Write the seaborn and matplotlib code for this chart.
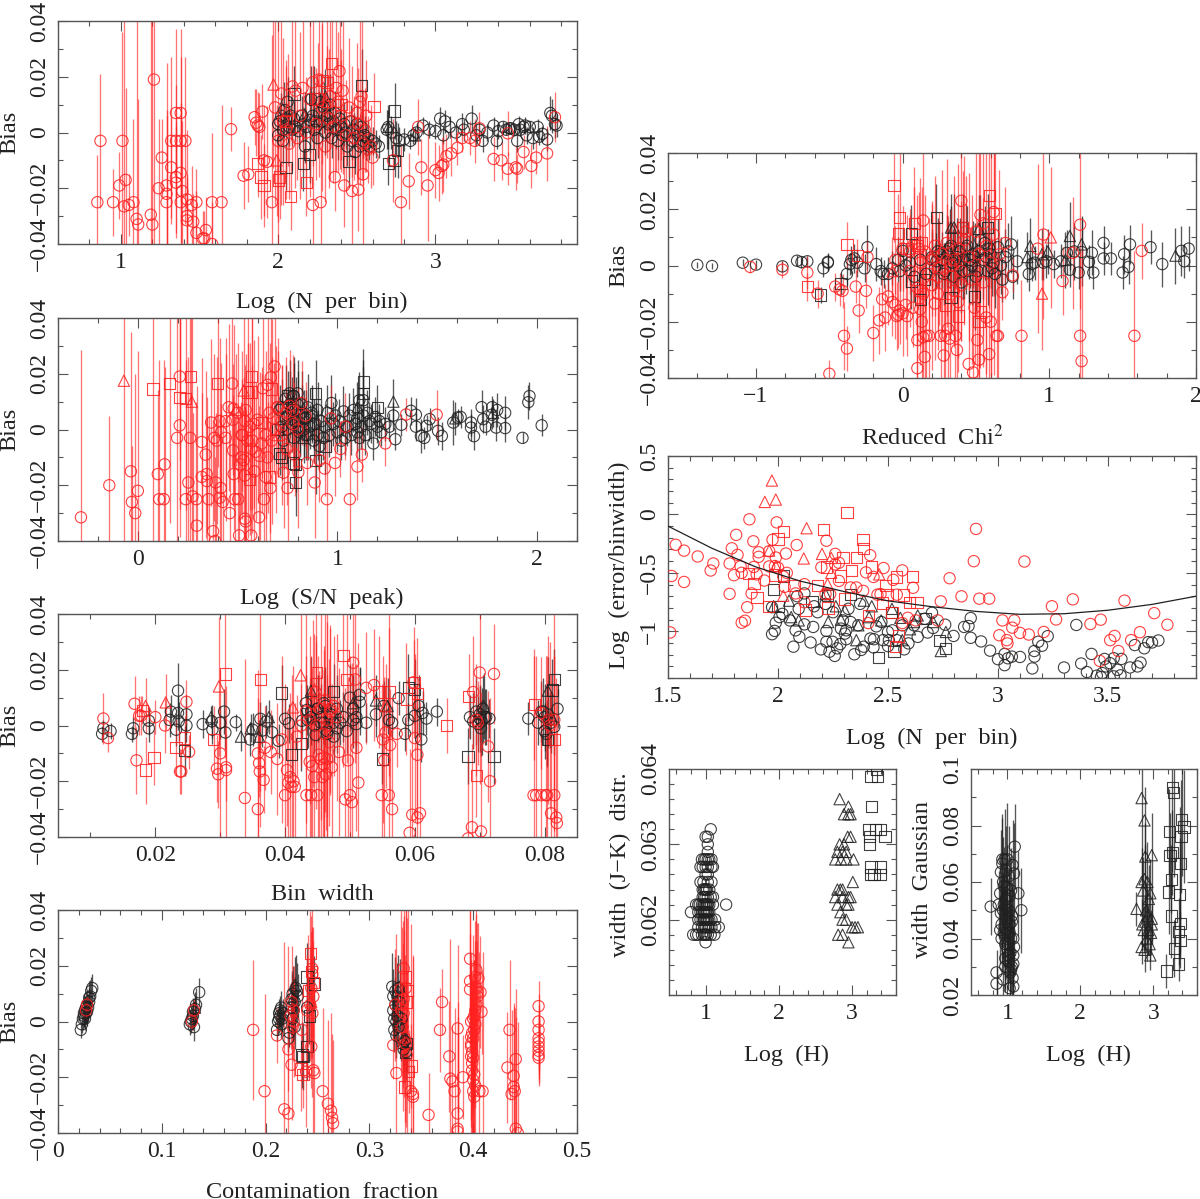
import seaborn as sns
import matplotlib.pyplot as plt
from matplotlib.ticker import MultipleLocator

RED = "#ff2020"
BLACK = "#202020"

# ---- panel 1: Log (N per bin)
p1_bc_x = [2.00,2.00,2.01,2.02,2.03,2.03,2.04,2.05,2.06,2.07,
           2.08,2.09,2.10,2.11,2.13,2.15,2.16,2.17,2.18,2.20,
           2.21,2.22,2.23,2.24,2.25,2.26,2.27,2.28,2.29,2.30,
           2.31,2.32,2.33,2.34,2.35,2.36,2.37,2.38,2.39,2.40,
           2.41,2.42,2.43,2.44,2.46,2.47,2.48,2.49,2.50,2.51,
           2.52,2.53,2.54,2.55,2.56,2.57,2.58,2.60,2.62,2.64,
           2.69,2.70,2.72,2.75,2.77,2.80,2.84,2.86,2.88,2.92,
           2.96,3.00,3.03,3.05,3.06,3.09,3.13,3.17,3.18,3.23,
           3.26,3.28,3.30,3.33,3.37,3.39,3.40,3.43,3.45,3.47,
           3.48,3.50,3.52,3.53,3.54,3.56,3.57,3.58,3.60,3.62,
           3.65,3.66,3.68,3.71,3.73,3.74,3.76,3.77]
p1_bc_y = [.003,-.001,.004,.006,.001,-.003,.008,.005,.011,.002,
           .006,.001,.005,.002,.0005,.006,.003,-.005,.002,.0045,
           .012,.006,.001,.004,-.002,.007,.011,.004,.009,0,
           .006,.003,.010,-.002,.004,.007,.001,-.003,.005,.002,
           -.001,.003,0,-.005,.004,-.003,.001,-.007,.003,-.001,
           -.005,.002,-.003,-.001,-.004,-.002,-.005,-.003,-.004,-.005,
           .001,.002,0,-.002,-.003,-.0025,-.003,-.001,0,.0025,
           .001,.0005,.005,-.001,.004,.002,0,.003,.001,.005,
           -.001,.001,-.003,0,.0025,-.003,.0005,.002,.001,.0015,
           .0015,.001,-.003,.003,.001,.002,.0025,-.001,.002,-.002,
           .002,-.0015,-.0005,-.0025,.007,.006,.003,.0025]
p1_bc_e = [.006,.005,.007,.008,.006,.008,.010,.006,.009,.007,
           .007,.006,.006,.005,.005,.007,.006,.006,.005,.012,
           .012,.009,.007,.008,.007,.008,.010,.009,.009,.008,
           .008,.006,.011,.007,.007,.008,.007,.007,.007,.008,
           .007,.008,.006,.007,.006,.007,.006,.008,.007,.006,
           .008,.006,.006,.007,.006,.006,.005,.005,.005,.004,
           .007,.008,.006,.006,.005,.004,.003,.003,.003,.003,
           .003,.003,.004,.003,.004,.004,.003,.004,.004,.005,
           .004,.003,.004,.003,.003,.003,.003,.002,.002,.002,
           .002,.002,.004,.003,.002,.002,.003,.003,.002,.004,
           .003,.003,.003,.004,.006,.006,.005,.004]
p1_bs_x = [2.05,2.16,2.20,2.10,2.23,2.53,2.45,2.70,2.74,2.76,2.74]
p1_bs_y = [-.0125,-.011,-.008,.0138,.012,.0168,-.0105,-.011,.0077,-.0065,-.010]
p1_bs_e = [.008,.010,.010,.010,.012,.013,.009,.008,.010,.010,.006]
p1_bt_x = [2.17,2.70,2.87,2.30]
p1_bt_y = [.0065,.002,-.001,.0127]
p1_bt_e = [.008,.006,.003,.010]
p1_rc_x = [.85,.87,.95,.99,1.01,1.02,1.03,1.05,1.08,1.10,
           1.11,1.19,1.20,1.21,1.24,1.26,1.29,1.29,1.29,1.32,
           1.32,1.35,1.35,1.35,1.35,1.38,1.38,1.38,1.39,1.38,
           1.41,1.42,1.42,1.42,1.45,1.46,1.48,1.48,1.52,1.53,
           1.54,1.58,1.58,1.64,1.70,1.78,1.81,1.85,1.86,1.87,
           1.88,1.90,1.91,1.93,1.96,2.09,2.155,1.98,2.00,2.02,
           2.03,2.05,2.07,2.11,2.12,2.14,2.18,2.20,2.22,2.24,
           2.26,2.28,2.30,2.32,2.33,2.35,2.37,2.38,2.39,2.40,
           2.41,2.43,2.45,2.47,2.48,2.50,2.51,2.52,2.53,2.54,
           2.55,2.56,2.57,2.59,2.60,2.22,2.27,2.36,2.42,2.47,
           2.51,2.54,2.78,2.73,2.83,2.89,2.91,2.95,3.00,3.02,
           3.04,3.05,3.07,3.10,3.14,3.17,3.22,3.25,3.28,3.37,
           3.42,3.46,3.51,3.52,3.56,3.61,3.64,3.71,3.76,3.46]
p1_rc_y = [-.025,-.003,-.025,-.019,-.003,-.0265,-.017,-.026,-.025,-.031,
           -.033,-.0295,-.033,.019,-.020,-.009,-.022,-.019,-.025,-.003,
           -.0125,.007,-.003,-.016,-.018,.007,-.003,-.0145,-.021,-.025,
           -.003,-.024,-.030,-.0315,-.026,-.032,-.025,-.036,-.038,-.038,
           -.035,-.025,-.040,-.025,.0012,-.0155,-.015,.0055,.0035,.0025,
           .002,.0075,-.010,-.0105,-.025,.0165,.016,.009,-.003,.014,
           .004,.001,-.004,.015,-.002,.006,.0,.012,.018,.003,
           .019,.009,-.005,.005,.013,.002,.016,.011,.022,.006,
           .015,-.001,.009,.004,-.002,.007,.003,.011,.013,-.004,
           .001,.006,-.006,-.005,-.009,-.026,-.025,-.016,-.019,-.021,
           -.0205,-.015,-.025,-.010,-.0175,.002,-.0125,-.019,-.0135,-.0145,
           -.012,-.0115,-.0085,-.0075,-.0055,-.002,-.002,-.003,.0015,-.0095,
           -.010,-.013,-.0125,-.013,-.007,-.012,-.009,-.0075,.0055,-.0003]
p1_rc_e = [.017,.024,.012,.012,.039,.070,.033,.011,.030,.085,
           .045,.080,.080,.060,.025,.014,.030,.025,.050,.030,
           .018,.030,.020,.020,.020,.030,.030,.025,.025,.030,
           .030,.025,.015,.015,.014,.010,.012,.015,.010,.010,
           .012,.025,.015,.035,.008,.012,.010,.010,.012,.012,
           .012,.010,.020,.020,.060,.030,.030,.035,.050,.040,
           .030,.025,.020,.035,.015,.030,.020,.035,.030,.020,
           .035,.030,.020,.025,.030,.020,.030,.025,.035,.020,
           .030,.020,.025,.020,.015,.025,.020,.030,.030,.015,
           .015,.020,.012,.015,.010,.050,.020,.012,.015,.020,
           .015,.030,.020,.015,.010,.010,.010,.020,.010,.010,
           .010,.010,.008,.008,.006,.005,.006,.008,.006,.008,
           .007,.006,.008,.005,.006,.008,.006,.010,.009,.008]
p1_rs_x = [2.34,2.28,2.31,1.87,1.89,1.91,2.00,2.01,2.08,2.18,2.61,2.40,2.25,2.05]
p1_rs_y = [.0247,.0187,.018,-.011,-.016,-.019,-.017,-.016,-.023,-.018,.0093,.010,.012,.004]
p1_rs_e = [.030,.030,.025,.012,.015,.015,.015,.015,.012,.012,.012,.020,.020,.020]
p1_rt_x = [1.97,1.99,2.06,2.31]
p1_rt_y = [.0172,-.010,.008,.011]
p1_rt_e = [.030,.020,.020,.020]

# ---- panel 2: Log (S/N peak)
p2_bc_x = [1.962,1.956,2.023,1.927,1.84,1.84,1.795,1.80,1.773,1.775,
           1.742,1.73,1.722,1.684,1.669,1.669,1.617,1.602,1.58,1.523,
           1.504,1.462,1.447,1.435,1.418,1.393,1.393,1.368,1.32,1.29,
           1.28,1.26,1.24,1.22,1.21,1.20,1.19,1.18,1.17,1.16,
           1.15,1.14,1.13,1.13,1.12,1.11,1.11,1.10,1.10,1.09,
           1.08,1.07,1.06,1.05,1.04,1.03,1.02,1.01,1.00,.99,
           .98,.97,.96,.95,.94,.93,.92,.91,.90,.89,
           .88,.87,.86,.85,.84,.83,.82,.81,.80,.80,
           .79,.78,.78,.77,.76,.75,.74,.73,.72,.71,
           .72,.74,.75,.76,.77,.78,.79,.80,.81,.82,
           .83,.84,.85,.87,.88,.90]
p2_bc_y = [.012,.0098,.0015,-.003,.006,.0005,.0007,.007,.0053,.008,
           .001,.0037,.008,-.0024,.0025,.0007,.0045,.0043,.0025,-.0023,
           -.0005,.0037,.0013,-.003,-.0023,.001,.0053,.0067,.0017,-.0035,
           .005,.001,.002,-.001,.003,.001,.0045,-.005,.002,.003,
           .006,-.002,.0105,.005,.001,.0105,-.003,.004,-.001,.002,
           .007,-.002,.005,.001,-.003,.0065,-.004,.003,-.001,.005,
           .002,.0095,-.002,.006,.001,-.003,.003,-.006,.007,.002,
           -.004,.005,.001,.008,-.002,.004,.009,-.001,.013,.003,
           .007,-.003,.012,.002,.009,.005,.011,-.004,.001,.007,
           .008,.004,.0,.013,.007,.012,.003,.009,.001,.006,
           .0,.004,-.002,.006,.002,-.002]
p2_bc_e = [.005,.006,.004,.002,.006,.005,.005,.006,.005,.004,
           .003,.005,.006,.005,.005,.005,.004,.003,.008,.005,
           .005,.004,.004,.004,.006,.005,.006,.005,.004,.004,
           .005,.005,.006,.005,.006,.006,.007,.006,.007,.007,
           .008,.007,.012,.010,.008,.010,.008,.008,.007,.007,
           .008,.007,.008,.007,.006,.009,.007,.008,.007,.008,
           .008,.010,.008,.010,.008,.008,.008,.008,.010,.008,
           .008,.010,.008,.012,.009,.010,.012,.009,.012,.010,
           .012,.010,.012,.010,.012,.010,.012,.010,.010,.009,
           .010,.010,.010,.012,.012,.014,.010,.012,.010,.010,
           .010,.010,.009,.010,.009,.009]
p2_bs_x = [.75,.71,.72,.78,.79,.89,.89,.94,1.13,1.13,1.20,.70,.79]
p2_bs_y = [.012,-.0085,-.010,-.012,-.019,.013,-.011,-.006,.017,.013,.008,.0,-.0125]
p2_bs_e = [.009,.008,.008,.009,.012,.012,.012,.010,.012,.012,.008,.010,.010]
p2_bt_x = [1.28,1.59,1.78,.83,1.10]
p2_bt_y = [.010,.004,.006,-.003,.008]
p2_bt_e = [.008,.006,.005,.009,.009]
p2_rc_x = [-.285,-.143,-.035,-.03,-.013,0,.10,.107,.13,.134,
           .21,.21,.197,.24,.253,.262,.274,.293,.295,.32,
           .32,.34,.345,.354,.346,.367,.383,.377,.39,.387,
           .396,.41,.417,.415,.41,.425,.44,.455,.473,.475,
           .477,.48,.46,.485,.503,.507,.513,.517,.523,.536,
           .54,.536,.536,.54,.568,.574,.584,.59,.607,.626,
           .632,.64,.65,.666,.664,.685,.65,.68,.70,.73,
           .75,.746,.775,.804,.785,.848,.886,.91,.936,.947,
           .988,.967,1.062,1.10,1.122,1.04,1.015,1.24,1.344,1.497,
           .44,.48,.50,.52,.55,.56,.58,.60,.62,.64,
           .66,.67,.69,.70,.72,.72,.74,.76,.78,.80,
           .82,.84,.57,.61,.53]
p2_rc_y = [-.0315,-.020,-.015,-.026,-.030,-.022,-.016,-.025,-.025,-.0125,
           .019,.0015,-.003,-.025,-.019,-.003,-.024,-.025,-.0345,-.0045,
           -.017,-.009,-.016,-.025,-.0185,.0025,-.003,-.0365,-.019,-.040,
           -.004,.003,-.001,-.021,-.0245,-.026,-.003,.008,.0165,.0035,
           -.0075,-.016,-.030,-.025,-.025,-.038,-.0125,-.010,-.002,.003,
           .007,-.0165,-.032,-.033,-.038,-.004,-.015,-.008,-.0315,.0148,
           -.025,-.017,.016,.0187,-.021,.0226,-.010,.004,.008,-.0155,
           -.021,-.007,.0067,-.0153,-.009,-.012,-.019,-.011,-.014,-.025,
           -.012,.004,-.025,-.0133,-.009,.001,-.007,-.005,.0054,.0053,
           .003,.0075,.006,-.002,-.004,.001,.002,.0035,-.005,-.002,
           .006,-.004,.0,.008,.003,-.002,.006,.0085,.002,.0,
           .0095,.005,-.007,-.0095,-.011]
p2_rc_e = [.060,.025,.050,.020,.050,.050,.030,.050,.050,.035,
           .030,.040,.050,.050,.045,.060,.030,.035,.050,.030,
           .030,.030,.020,.030,.030,.030,.030,.040,.025,.030,
           .030,.030,.025,.030,.030,.030,.030,.030,.030,.020,
           .020,.020,.030,.030,.030,.040,.020,.020,.020,.020,
           .020,.025,.040,.040,.040,.025,.030,.025,.040,.030,
           .030,.030,.030,.030,.020,.025,.020,.020,.020,.020,
           .020,.020,.020,.020,.015,.015,.020,.015,.010,.025,
           .012,.012,.025,.012,.010,.012,.010,.008,.006,.009,
           .030,.030,.025,.030,.035,.030,.030,.030,.025,.030,
           .025,.030,.030,.025,.020,.025,.020,.020,.015,.015,
           .015,.012,.030,.030,.030]
p2_rs_x = [.076,.16,.21,.24,.265,.40,.55,.57,.57,.62,.67,.56,.66]
p2_rs_y = [.0145,.0165,.0115,.011,.019,.0165,.0135,.019,.0135,.0025,.0145,-.018,-.017]
p2_rs_e = [.060,.050,.040,.040,.040,.030,.030,.030,.030,.020,.025,.020,.020]
p2_rt_x = [-.07,.27,.53,.49,.70]
p2_rt_y = [.0175,.010,.014,.007,-.002]
p2_rt_e = [.060,.050,.030,.020,.015]

# ---- panel 3: Bin width
p3_bc_x = [.0118,.012,.0131,.0164,.0166,.019,.019,.0224,.0222,.0232,
           .0235,.0235,.0236,.0248,.0248,.0273,.0287,.0288,.030,.0306,
           .0308,.0324,.0346,.035,.0362,.0365,.0371,.038,.039,.040,
           .0406,.0426,.0432,.0434,.044,.0447,.045,.0455,.046,.0465,
           .047,.0475,.048,.0485,.049,.0495,.050,.0505,.051,.0515,
           .0525,.054,.0552,.056,.0565,.0575,.0585,.059,.060,.0606,
           .061,.0612,.0618,.0634,.0685,.069,.0695,.070,.0702,.0705,
           .071,.0715,.0775,.079,.0795,.080,.0805,.081,.0815,.082,
           .0435,.044,.0445,.045,.0455,.046,.0462,.0465,.047,.0475,
           .048,.0505,.051,.0515,.070,.0703,.0698,.0708,.080,.0803,
           .0798,.0808]
p3_bc_y = [-.003,-.001,-.002,-.003,-.001,.0017,-.001,.005,.002,-.0015,
           .0125,.0045,.0015,.004,0,.0005,.0015,-.0015,.001,.005,
           -.0025,.0012,-.005,-.0015,.0024,-.0018,.0014,-.0024,-.0055,.0024,
           .0008,.0017,.008,.0056,.003,-.0034,.006,.001,.008,-.002,
           .004,-.004,.006,.001,.003,-.002,.010,.006,.003,.011,
           .001,.004,.007,.002,.001,.0098,-.003,.002,.0035,.007,
           -.005,.0045,.0025,.005,.003,.0015,.005,.0025,-.001,.006,
           .003,.0025,.0025,.001,.005,-.002,.004,.001,-.0005,.006,
           .002,.005,.0,.006,.003,.001,.007,-.003,.003,.001,
           -.001,.002,.0005,.0085,.004,.0015,.0005,.003,.003,-.003,
           .005,.002]
p3_bc_e = [.003,.003,.003,.003,.004,.005,.005,.006,.006,.006,
           .010,.006,.007,.007,.006,.005,.006,.005,.006,.008,
           .006,.003,.006,.006,.006,.006,.006,.006,.006,.007,
           .007,.006,.010,.009,.010,.008,.012,.009,.012,.010,
           .010,.009,.012,.008,.009,.008,.012,.012,.010,.010,
           .007,.008,.009,.006,.006,.006,.006,.006,.008,.011,
           .008,.008,.006,.005,.008,.010,.012,.012,.010,.012,
           .010,.007,.006,.008,.011,.010,.012,.011,.010,.007,
           .010,.012,.010,.012,.012,.010,.014,.010,.012,.010,
           .009,.010,.010,.012,.010,.012,.010,.010,.012,.012,
           .012,.010]
p3_bs_x = [.0395,.041,.055,.059,.060,.0682,.0722,.0804,.0815,.0812,.0425,.0475,.0245]
p3_bs_y = [.0117,-.0105,-.012,.0137,.013,-.011,-.011,-.005,.0165,.0127,-.0065,.0122,-.009]
p3_bs_e = [.010,.008,.009,.012,.011,.010,.010,.009,.011,.011,.010,.010,.009]
p3_bt_x = [.0286,.0332,.036,.0375,.044,.0505,.054,.0558,.0706,.0805,.0347]
p3_bt_y = [.003,-.004,-.004,.003,.0125,.008,.009,.007,.007,.0125,-.001]
p3_bt_e = [.004,.005,.006,.006,.012,.010,.009,.010,.012,.012,.005]
p3_rc_x = [.012,.0127,.0168,.0171,.0175,.0178,.020,.0215,.0238,.024,
           .0248,.0252,.0295,.0297,.030,.0309,.0309,.0338,.0358,.0358,
           .036,.0361,.0367,.0369,.0378,.0388,.0395,.040,.0403,.0405,
           .0408,.041,.0413,.0415,.0418,.0425,.0433,.0438,.044,.0442,
           .0445,.0447,.045,.0452,.0458,.046,.0463,.0465,.047,.0472,
           .048,.0483,.0493,.0497,.050,.0503,.0505,.0508,.051,.0513,
           .0525,.0537,.0549,.0551,.0553,.0555,.056,.0562,.0565,.0572,
           .0592,.0596,.0598,.06,.0604,.0604,.0608,.0682,.0688,.069,
           .0695,.0697,.070,.0702,.0713,.0716,.0722,.0783,.0787,.0795,
           .0802,.0804,.081,.0815,.0818,.0819,.0806,.0795,.0815,.0808,
           .0432,.0438,.0443,.0448,.0455,.046,.0462,.0465,.0468,.047,
           .0455,.046,.0465,.0475]
p3_rc_y = [.0025,-.0045,.0078,-.0125,.0035,.0035,.003,.0,-.0165,-.0165,
           .0085,-.0095,-.0155,-.0175,-.010,-.016,-.015,-.026,-.030,-.010,
           -.0135,-.0165,-.0195,-.008,-.0095,-.012,-.005,-.025,-.016,-.0205,
           -.0185,-.022,-.020,-.022,-.004,.0,-.025,-.013,-.025,-.0145,
           -.0185,.012,-.025,-.0105,-.0185,-.0115,-.0175,.0,.005,-.015,
           .003,-.0095,-.0265,-.0125,-.025,-.0275,.0225,.0165,-.008,-.0205,
           .0135,.0145,-.025,-.005,-.0125,-.0025,-.025,-.007,-.030,-.003,
           -.0385,-.032,.0155,-.0045,-.033,-.0105,-.0315,-.0405,-.0365,.012,
           .002,.001,.019,-.038,-.0075,-.020,.0185,-.025,-.025,.0045,
           -.025,-.025,-.0315,-.025,-.033,-.035,.002,-.025,.002,.0,
           .005,.002,.008,.0,.006,-.003,.009,.002,-.006,.006,
           -.012,-.014,-.012,.007]
p3_rc_e = [.009,.005,.010,.012,.007,.007,.006,.010,.008,.008,
           .008,.006,.012,.012,.030,.030,.012,.050,.040,.030,
           .012,.020,.012,.015,.015,.020,.030,.040,.020,.020,
           .030,.040,.020,.030,.015,.015,.050,.030,.050,.035,
           .030,.020,.050,.030,.030,.040,.020,.040,.030,.030,
           .030,.030,.040,.030,.050,.050,.030,.030,.030,.050,
           .020,.020,.040,.030,.030,.020,.060,.020,.040,.012,
           .030,.040,.015,.030,.040,.025,.040,.030,.030,.020,
           .020,.015,.040,.050,.020,.030,.018,.050,.050,.020,
           .050,.050,.050,.050,.050,.050,.030,.040,.040,.030,
           .040,.030,.030,.030,.040,.030,.040,.035,.030,.030,
           .030,.030,.030,.025]
p3_rs_x = [.0245,.018,.0185,.0198,.0232,.029,.0308,.0362,.0448,.049,
           .0495,.0545,.056,.0587,.0599,.0604,.0649,.0683,.0695,.0815,.0784]
p3_rs_y = [-.0045,.0055,-.016,-.0115,-.008,-.005,.0185,.0165,.019,.025,.0165,.012,.012,.0095,.0155,.0115,.0,.0105,-.018,-.005,.0075]
p3_rs_e = [.008,.005,.012,.010,.010,.012,.030,.040,.030,.040,.030,.020,.030,.020,.020,.020,.010,.015,.015,.030,.020]
p3_rt_x = [.0185,.0216,.0298,.0412,.0424,.0445,.0555]
p3_rt_y = [.007,.0083,.014,.0065,.018,.013,.007]
p3_rt_e = [.010,.010,.025,.015,.030,.020,.015]

# ---- panel 4: Contamination fraction
p4_bc_x = [.022,.023,.024,.025,.025,.026,.026,.027,.027,.028,
           .028,.029,.030,.030,.031,.032,.033,.127,.128,.129,
           .130,.130,.131,.132,.133,.136,.211,.212,.213,.213,
           .214,.214,.215,.215,.216,.217,.222,.223,.224,.225,
           .225,.226,.226,.227,.228,.228,.229,.230,.231,.240,
           .322,.323,.323,.324,.324,.325,.325,.326,.326,.327,
           .327,.328,.328,.329,.330,.331,.332,.333,.334,.335]
p4_bc_y = [-.003,-.001,.001,.002,.003,.001,.004,.003,.005,.0035,
           .006,.005,.007,.0085,.009,.011,.012,-.001,0,.001,
           .002,.0035,-.002,.0045,.006,.0105,-.003,0,.001,.003,
           .002,.004,-.001,.005,.001,.003,-.006,-.004,.002,.005,
           .008,.001,.010,.004,-.002,.007,.012,.011,.009,.005,
           .0125,.009,.004,.001,-.003,.011,.006,.0,-.005,.009,
           .002,-.002,.012,.007,-.006,.001,-.008,-.010,-.007,-.011]
p4_bc_e = [.003,.003,.004,.004,.005,.004,.005,.004,.005,.005,
           .005,.005,.005,.006,.006,.005,.005,.004,.004,.004,
           .005,.005,.005,.006,.006,.005,.004,.005,.005,.005,
           .005,.005,.005,.006,.005,.005,.005,.005,.007,.008,
           .009,.008,.010,.008,.008,.009,.012,.010,.008,.012,
           .012,.010,.010,.008,.008,.012,.010,.010,.008,.012,
           .009,.008,.012,.010,.008,.008,.008,.008,.008,.007]
p4_bs_x = [.235,.236,.240,.242,.247,.240,.335,.336]
p4_bs_y = [-.012,-.0125,.016,.002,.0135,-.009,-.011,-.008]
p4_bs_e = [.012,.012,.012,.010,.010,.012,.010,.010]
p4_bt_x = [.132,.225,.228,.329,.335]
p4_bt_y = [.005,.009,.013,.0125,-.006]
p4_bt_e = [.004,.009,.010,.010,.008]
p4_rc_x = [.027,.028,.129,.131,.188,.199,.211,.218,.222,.222,
           .225,.235,.239,.244,.246,.247,.255,.26,.263,.264,
           .265,.245,.240,.227,.225,.323,.325,.326,.333,.333,
           .335,.336,.340,.342,.342,.357,.368,.37,.377,.378,
           .380,.382,.385,.385,.39,.397,.397,.397,.398,.398,
           .398,.399,.399,.400,.400,.400,.401,.401,.402,.402,
           .403,.403,.404,.405,.406,.407,.408,.409,.435,.433,
           .437,.439,.439,.440,.441,.441,.443,.463,.463,.463,
           .463,.463,.463,.463,.463,.463,.385,.385,.332,.33,
           .398,.399,.400,.401,.402,.403,.404,.399,.400,.401,
           .402,.398,.243,.244,.245,.245,.246,.224,.226,.227,
           .331,.332,.333,.334,.335]
p4_rc_y = [.004,.006,0,.004,-.003,-.025,-.005,-.0315,-.010,-.033,
           -.0155,-.003,-.018,-.009,-.0175,-.0185,-.025,-.0295,-.032,-.0345,
           -.0365,.019,.004,.0,.007,-.0085,.006,-.0185,.019,.003,
           -.008,-.012,-.025,-.026,-.027,-.0335,-.003,.007,-.0125,-.0205,
           -.0215,-.025,-.0395,-.0025,-.020,.0225,.0145,.0115,-.0055,-.008,
           -.0125,-.015,-.0175,-.021,-.025,.001,-.027,-.003,.016,-.001,
           .0185,.012,.0105,.0155,-.025,.0105,.0035,-.025,-.003,-.0165,
           -.026,-.0195,-.0235,-.025,-.0135,-.0385,-.040,.0055,0,-.003,
           -.006,-.0075,-.009,-.0105,-.012,-.013,-.033,-.0385,.006,.0115,
           .0,-.004,-.006,.002,.004,.006,.009,-.011,-.013,-.019,
           -.023,-.009,.006,.012,.017,.003,.009,.002,-.002,.004,
           .004,-.002,.008,-.006,.012]
p4_rc_e = [.003,.003,.003,.004,.025,.035,.010,.060,.015,.060,
           .020,.015,.020,.015,.025,.030,.030,.030,.035,.030,
           .030,.015,.020,.020,.020,.012,.020,.050,.040,.030,
           .030,.030,.060,.050,.050,.015,.015,.012,.020,.050,
           .020,.030,.035,.030,.015,.020,.025,.020,.030,.030,
           .030,.030,.030,.030,.040,.030,.040,.025,.020,.030,
           .020,.030,.025,.020,.050,.020,.015,.050,.025,.020,
           .030,.025,.030,.030,.025,.040,.040,.009,.010,.009,
           .010,.010,.010,.010,.010,.010,.040,.040,.030,.030,
           .020,.020,.020,.020,.020,.020,.020,.020,.020,.025,
           .025,.020,.020,.020,.030,.030,.020,.012,.012,.012,
           .030,.030,.030,.030,.030]
p4_rs_x = [.243,.244,.241,.246,.234,.236,.335,.337,.336,.338,.334,.340]
p4_rs_y = [.0245,.018,.011,.014,-.017,-.019,.016,.011,.007,-.018,-.0235,-.016]
p4_rs_e = [.015,.020,.020,.020,.015,.012,.030,.030,.030,.015,.020,.015]
p4_rt_x = [.244]
p4_rt_y = [.007]
p4_rt_e = [.020]

# ---- panel 5: Reduced Chi^2
p5_bc_x = [-1.40,-1.30,-1.09,-1.00,-.82,-.72,-.69,-.65,-.54,-.51,
           -.51,-.38,-.36,-.35,-.33,-.31,-.26,-.24,-.18,-.15,
           -.13,-.10,-.07,-.02,-.03,0,.02,.05,.08,.12,
           .16,.20,.23,.25,.28,.30,.32,.34,.35,.37,
           .38,.40,.41,.43,.45,.47,.49,.50,.52,.55,
           .56,.58,.60,.62,.63,.65,.67,.68,.70,.72,
           .74,.75,.78,.86,.88,.90,.96,.98,1.03,1.08,
           1.12,1.14,1.17,1.20,1.22,1.27,1.29,1.30,1.37,1.37,
           1.42,1.50,1.51,1.54,1.55,1.69,1.77,1.90,1.92,1.95,
           .20,.22,.24,.27,.29,.31,.33,.36,.39,.42,
           .44,.46,.48,.51,.53,.57,.59,.61]
p5_bc_y = [.0002,-.0002,.001,.0003,-.0003,.0017,.0012,.0015,-.001,.001,
           .0013,-.003,.0005,.002,.0025,.001,-.001,.0065,.0005,-.002,
           -.003,-.003,-.001,-.002,.002,.0052,.0,.001,-.004,.002,
           -.003,.002,.0015,.004,-.003,.005,.006,.001,-.004,.003,
           .0,-.006,.002,.006,-.002,.0,.003,-.004,.005,.002,
           .008,-.002,.004,.001,-.003,.0065,.0,-.005,.003,.005,
           .0075,-.004,.0015,-.003,.0005,.001,.001,.0015,.0005,.0015,
           .0045,-.0015,.005,-.0025,.0048,.0013,.0045,-.0025,.008,.0025,
           .0025,-.0025,.004,-.0005,.0075,.0065,.0005,.0052,.0015,.006,
           .003,-.001,.005,.002,-.002,.004,.007,.002,.005,-.002,
           .007,.002,.004,-.002,.009,.003,.006,-.001]
p5_bc_e = [.0012,.001,.0012,.0015,.002,.002,.002,.002,.003,.003,
           .003,.004,.004,.005,.005,.005,.005,.008,.006,.005,
           .005,.006,.006,.007,.008,.008,.008,.008,.009,.009,
           .009,.010,.010,.012,.011,.013,.014,.012,.012,.014,
           .012,.011,.014,.016,.012,.014,.012,.012,.014,.014,
           .013,.012,.012,.012,.012,.010,.010,.008,.010,.010,
           .010,.008,.008,.006,.006,.006,.006,.006,.005,.006,
           .008,.006,.010,.006,.012,.006,.008,.006,.006,.006,
           .006,.006,.007,.006,.007,.006,.008,.009,.006,.008,
           .010,.009,.012,.010,.010,.012,.014,.010,.012,.010,
           .014,.010,.012,.010,.016,.010,.014,.010]
p5_bs_x = [-.56,-.42,.06,.12,.23,.15,.33,.41,.49,.58,.06]
p5_bs_y = [-.0105,-.0065,.0115,-.012,.017,-.005,-.0115,.0135,-.011,.0135,-.0055]
p5_bs_e = [.003,.004,.010,.012,.012,.008,.012,.012,.012,.012,.010]
p5_bt_x = [.33,.35,.87,.85,.95,.99,1.14,1.11,1.22,1.86,.52]
p5_bt_y = [.0135,.0135,.007,.003,.004,.005,.0105,.002,.0075,.0035,.013]
p5_bt_e = [.012,.012,.010,.009,.009,.008,.012,.010,.010,.010,.012]
p5_rc_x = [-1.04,-.82,-.65,-.58,-.46,-.43,-.41,-.40,-.38,-.50,
           -.32,-.30,-.25,-.24,-.20,-.16,-.14,-.12,-.10,-.07,
           -.05,-.04,-.03,-.02,0,.02,.03,.05,.07,.10,
           .10,.11,.12,.13,.14,.14,.15,.16,.18,.22,
           .24,.26,.28,.29,.31,.32,.33,.36,.37,.38,
           .40,.43,.45,.48,.49,.51,.52,.53,.57,.59,
           .60,.62,.64,.65,.68,.75,.81,.92,.96,1.09,
           1.16,1.21,1.21,1.22,1.58,1.63,.14,.24,.30,.40,
           -.05,0,.05,.08,.12,.15,.18,.20,.22,.25,
           .27,.30,.33,.35,.38,.40,.42,.45,.47,.50,
           .52,.55,.57,.60,.62,.66,.70,.10,.20,.35,.55]
p5_rc_y = [-.0005,-.0015,-.0025,-.0100,-.0075,-.0085,-.0090,-.025,-.0295,-.0385,
           -.0075,-.016,-.009,.003,-.024,-.0195,-.012,-.0185,-.011,-.013,
           -.014,-.018,-.0175,-.016,-.017,-.014,-.018,.005,-.015,-.0265,
           -.0365,.006,-.0155,-.020,.016,-.0255,-.0325,-.025,-.025,-.0135,
           -.010,-.025,-.032,-.025,-.0225,-.026,.0,-.025,-.030,-.013,
           .023,.012,-.035,-.038,-.015,-.0265,-.0335,.018,-.0185,-.0315,
           -.02,.019,-.025,-.025,-.0095,-.0035,-.025,.006,.011,-.0055,
           .0045,-.025,.0145,-.034,-.025,.0052,-.010,-.004,.002,-.007,
           .002,.006,-.002,.008,.001,.005,-.003,.002,.007,-.001,
           .004,.008,-.004,.002,.006,-.002,.009,.003,-.005,.012,
           .004,.015,.007,.001,.011,.004,.008,-.008,-.007,-.009,-.006]
p5_rc_e = [.002,.003,.006,.005,.005,.006,.006,.012,.008,.005,
           .006,.008,.006,.006,.010,.012,.010,.012,.010,.012,
           .012,.012,.012,.012,.015,.012,.014,.015,.014,.020,
           .030,.020,.020,.020,.030,.020,.030,.030,.030,.020,
           .020,.030,.040,.030,.040,.030,.020,.040,.040,.020,
           .030,.020,.030,.040,.020,.030,.040,.030,.020,.040,
           .030,.030,.030,.030,.010,.006,.020,.030,.030,.012,
           .020,.030,.030,.040,.030,.010,.020,.020,.020,.020,
           .012,.015,.020,.020,.030,.020,.020,.020,.025,.020,
           .030,.030,.020,.030,.030,.025,.030,.030,.030,.030,
           .040,.040,.050,.040,.050,.030,.020,.020,.030,.020,.030]
p5_rs_x = [-.65,-.38,-.31,-.06,-.03,-.02,.03,.08,.10,.13,.29,.41,.53,.59,.63,.52,.12,.38]
p5_rs_y = [-.0075,.0075,.0035,.0285,.0115,.017,.006,.015,.007,.008,-.014,.0135,-.0165,.025,.0185,-.020,-.009,-.018]
p5_rs_e = [.005,.008,.006,.020,.014,.025,.012,.020,.018,.020,.020,.020,.020,.040,.025,.020,.015,.020]
p5_rt_x = [.95,1.01,.20,-.07]
p5_rt_y = [-.010,.010,.003,-.002]
p5_rt_e = [.020,.025,.015,.012]

# ---- panel 6: Log (error/binwidth), no error bars
p6_rc_x = [1.535,1.573,1.635,1.706,1.694,1.516,1.573,1.51,1.78,1.78,
           1.79,1.81,1.816,1.80,1.83,1.835,1.835,1.85,1.86,1.87,
           1.888,1.89,1.88,1.903,1.912,1.912,1.938,1.96,1.96,1.975,
           1.994,1.99,1.986,2.0,2.04,2.036,2.024,2.03,2.085,2.08,
           2.12,2.12,2.197,2.22,2.216,2.237,2.26,2.26,2.277,2.277,
           2.33,2.356,2.387,2.40,2.419,2.41,2.434,2.48,2.452,2.466,
           2.524,2.54,2.565,2.614,2.59,2.626,2.565,2.726,2.74,2.78,
           2.834,2.89,2.90,2.915,2.96,3.02,3.006,3.04,3.043,3.065,
           3.074,3.10,3.12,3.14,3.208,3.245,3.264,3.34,3.42,3.467,
           3.463,3.51,3.53,3.547,3.575,3.605,3.645,3.71,3.77]
p6_rc_y = [-.26,-.31,-.36,-.42,-.48,-.527,-.578,-1.01,-.68,-.42,
           -.29,-.175,-.346,-.52,-.445,-.5,-.927,-.91,-.794,-.042,
           -.23,-.45,-.676,-.513,-.324,-.363,-.566,-.315,-.445,-.217,
           -.068,-.369,-.442,-.456,-.5,-.335,-.532,-.62,-.262,-.676,
           -.597,-.752,-.453,-.225,-.682,-.682,-.338,-.428,-.414,-.569,
           -.625,-.625,-.654,-.496,-.349,-.93,-.535,-.459,-.687,-.682,
           -.56,-.687,-.479,-.628,-.885,-.907,-.93,-.907,-.744,-.546,
           -.701,-.4,-.124,-.721,-.721,-.907,-1.034,-1.076,-1.104,-.969,
           -.907,-1.014,-.403,-1.028,-1.006,-.786,-.899,-.727,-.938,-.901,
           -1.254,-1.076,-1.04,-1.169,-.738,-1.076,-1.008,-.845,-.944]
p6_rs_x = [2.314,2.206,2.026,2.0,2.387,2.39,2.295,2.356,2.22,2.335,
           2.283,2.426,2.54,2.61,2.489,2.496,2.57,2.597,2.632,2.475,
           1.891,1.905,1.958,1.867,1.986,2.073,2.18,2.125,2.227,2.303,
           2.41,2.518,2.548,2.534]
p6_rs_y = [.017,-.132,-.144,-.21,-.217,-.293,-.366,-.366,-.45,-.479,
           -.527,-.45,-.535,-.53,-.606,-.687,-.69,-.752,-.752,-.758,
           -.589,-.71,-.786,-.507,-.518,-.611,-.606,-.817,-.8,-.724,
           -.865,-.837,-1.04,-1.132]
p6_rt_x = [1.972,1.94,1.99,2.13,1.96,2.117,2.2,2.242,2.242,2.46,2.225,1.99,2.024]
p6_rt_y = [.29,.107,.127,-.118,-.31,-.377,-.338,-.372,-.5,-.513,-.597,-.442,-.696]
p6_bc_x = [1.973,1.985,1.99,2.007,2.02,1.973,2.08,2.07,2.097,2.094,
           2.087,2.12,2.12,2.16,2.148,2.195,2.22,2.22,2.234,2.248,
           2.258,2.269,2.283,2.304,2.31,2.31,2.347,2.378,2.39,2.42,
           2.436,2.434,2.447,2.478,2.5,2.504,2.5,2.52,2.54,2.574,
           2.593,2.635,2.68,2.70,2.705,2.76,2.798,2.846,2.866,2.876,
           2.876,2.923,2.964,3.0,3.03,3.03,3.045,3.063,3.10,3.156,
           3.165,3.166,3.183,3.2,3.226,3.30,3.356,3.378,3.404,3.425,
           3.449,3.468,3.484,3.491,3.509,3.526,3.543,3.557,3.561,3.6,
           3.634,3.648,3.665,3.683,3.70,3.729,3.622,3.474,3.526,2.25,
           2.18,2.164,2.216,2.295,2.33,2.365,2.32,2.373,2.47,2.565,
           2.618,2.667,2.054,2.286]
p6_bc_y = [-1.025,-.997,-.927,-.879,-.851,-.794,-.992,-1.132,-1.048,-.808,
           -.7,-.676,-.941,-.963,-1.096,-1.155,-.997,-1.09,-1.175,-1.09,
           -1.211,-1.146,-1.11,-1.02,-.992,-1.068,-1.197,-1.16,-1.132,-1.062,
           -1.068,-1.138,-.958,-1.076,-1.006,-1.076,-1.127,-.992,-1.076,-1.155,
           -1.104,-1.048,-1.011,-.842,-.972,-.944,-1.04,-.963,-.955,-.887,
           -1.056,-1.087,-1.166,-1.239,-1.194,-1.29,-1.231,-1.217,-1.22,-1.318,
           -1.169,-1.217,-1.09,-1.124,-1.042,-1.31,-.946,-1.276,-1.349,-1.194,
           -1.38,-1.392,-1.237,-1.301,-1.273,-1.386,-1.33,-1.377,-1.237,-1.31,
           -1.301,-1.268,-1.146,-1.093,-1.096,-1.079,-1.118,-1.358,-1.231,-.837,
           -.837,-.786,-.766,-.907,-.921,-.949,-.808,-.766,-.921,-.949,
           -.949,-.893,-.907,-.977]
p6_bs_x = [1.98,2.0,2.024,2.155,2.225,2.456,2.527,2.735,2.76,2.67,2.516,2.33]
p6_bs_y = [-.645,-.786,-.527,-.746,-.696,-1.225,-1.172,-1.082,-1.146,-.893,-.837,-.687]
p6_bt_x = [2.05,2.06,2.094,2.228,2.263,2.286,2.304,2.356,2.365,2.426,
           2.414,2.469,2.518,2.556,2.6,2.618,2.635,2.705,2.763,2.74,
           1.98,2.216,2.39,2.565]
p6_bt_y = [-.738,-.879,-.907,-.921,-.786,-.901,-.823,-1.076,-.949,-.786,
           -.879,-.907,-.808,-.885,-.983,-.921,-.865,-.921,-1.006,-1.169,
           -.786,-.682,-.738,-1.076]
curve_x = [1.5,1.7,1.9,2.1,2.3,2.5,2.7,2.9,3.1,3.3,3.5,3.7,3.9]
curve_y = [-.10,-.29,-.45,-.57,-.66,-.74,-.79,-.83,-.855,-.85,-.82,-.77,-.70]

# ---- panel 7: width (J-K) distr. vs Log (H), no error bars
p7_c_x = [1.07,1.0,1.03,1.03,1.03,.95,.98,1.0,1.03,1.05,1.08,
          .93,.96,1.0,1.03,1.08,1.1,1.0,1.03,.93,.97,1.03,1.08,
          .96,.98,1.0,1.02,1.05,.96,.98,1.0,1.03,1.07,1.1,
          .87,.9,.92,.95,.97,1.0,1.03,1.05,1.1,1.28,
          .8,.9,.93,.96,.98,1.0,1.03,1.05,
          .9,.93,.96,.98,1.0,1.03,1.05,1.08,1.13,
          .9,.95,.98,1.0,1.03,1.05,1.08,1.13,1.18,
          .83,.87,.9,.95,.98,1.0,1.03,1.07,1.12,1.0,
          .98,1.0,1.02,.98,1.0,1.02,.98,1.0,1.02,1.0,1.0,1.0]
p7_c_y = [.0632,.0631,.0631,.0630,.0629,.0628,.0628,.0628,.0628,.0628,.0628,
          .0627,.0627,.0627,.0627,.0627,.0627,.0626,.0626,.0625,.0625,.0625,.0625,
          .0624,.0624,.0624,.0624,.0624,.0623,.0623,.0623,.0623,.0623,.0623,
          .0622,.0622,.0622,.0622,.0622,.0622,.0622,.0622,.0622,.0622,
          .0621,.0621,.0621,.0621,.0621,.0621,.0621,.0621,
          .0620,.0620,.0620,.0620,.0620,.0620,.0620,.0620,.0620,
          .0619,.0619,.0619,.0619,.0619,.0619,.0619,.0619,.0619,
          .0618,.0618,.0618,.0618,.0618,.0618,.0618,.0618,.0618,.0617,
          .0622,.0622,.0622,.0621,.0621,.0621,.0620,.0620,.0620,.0619,.0618,.0624]
p7_t_x = [2.83,2.95,2.89,2.95,2.98,2.94,2.98,2.89,2.83,2.80,2.87,2.92,2.77,2.85,2.92,3.02,
          3.01,2.80,2.84,2.87,2.77,2.87,2.95,2.98,2.80,2.92,2.95,2.84,2.87,2.92,3.0,3.04,3.08,2.81,2.87,2.95]
p7_t_y = [.0636,.0635,.0634,.0634,.0634,.0631,.0631,.0630,.0630,.0629,.0629,.0629,.0628,.0628,.0628,.0628,
          .0625,.0624,.0624,.0624,.0623,.0623,.0623,.0623,.0622,.0622,.0622,.0621,.0620,.0620,.0619,.0619,.0619,.0618,.0618,.0617]
p7_s_x = [3.33,3.26,3.35,3.27,3.23,3.32,3.39,3.24,3.45,3.24,3.26,3.39,3.26,3.38,3.30]
p7_s_y = [.0640,.0639,.0639,.0635,.0632,.0632,.0632,.0631,.0631,.0630,.0627,.0627,.0626,.0626,.0626]

# ---- panel 8: width Gaussian vs Log (H)
p8_c_x = [.77,.85,.85,.94,1.1,1.15,1.19,1.08,1.03,.88,
          .90,.91,.92,.93,.94,.95,.96,.97,.98,.99,
          1.0,1.01,1.02,1.03,1.04,1.05,1.06,1.07,1.08,1.09,
          .90,.92,.94,.96,.98,1.0,1.02,1.04,1.06,1.08,
          .91,.93,.95,.97,.99,1.01,1.03,1.05,1.07,1.09,
          .97,1.0,1.03,1.06,1.08,.95,1.02,1.05]
p8_c_y = [.0513,.024,.028,.0255,.0725,.056,.05,.023,.0224,.052,
          .043,.0635,.045,.068,.050,.0585,.068,.033,.054,.047,
          .068,.038,.062,.042,.035,.057,.030,.066,.040,.063,
          .056,.040,.060,.044,.064,.036,.050,.028,.046,.034,
          .049,.0665,.042,.038,.058,.032,.045,.040,.026,.037,
          .030,.042,.055,.048,.031,.052,.034,.029]
p8_c_e = [.010,.006,.008,.010,.015,.015,.015,.006,.006,.012,
          .012,.015,.012,.016,.012,.014,.018,.012,.013,.012,
          .020,.012,.018,.012,.010,.015,.010,.016,.010,.018,
          .014,.012,.016,.012,.016,.010,.014,.008,.012,.010,
          .012,.016,.012,.012,.015,.010,.012,.012,.008,.010,
          .008,.012,.014,.012,.008,.013,.009,.008]
p8_t_x = [2.84,2.88,2.89,2.98,2.77,2.84,2.86,2.88,2.90,2.92,
          2.94,2.96,2.98,2.85,2.87,2.89,2.91,2.93,2.95,2.97,
          2.84,2.88,2.92,2.96,2.98]
p8_t_y = [.0897,.0818,.069,.0695,.0505,.060,.057,.061,.050,.060,
          .054,.056,.047,.045,.043,.046,.040,.043,.038,.042,
          .037,.036,.048,.034,.045]
p8_t_e = [.030,.012,.012,.015,.006,.012,.012,.012,.010,.014,
          .012,.012,.008,.009,.008,.008,.008,.009,.006,.008,
          .006,.008,.010,.005,.007]
p8_s_x = [3.26,3.28,3.39,3.42,3.22,3.38,3.26,3.23,3.37,3.25,
          3.21,3.36,3.25,3.37,3.35,3.37,3.29,3.35,3.18]
p8_s_y = [.0935,.0917,.082,.0795,.0778,.0762,.0705,.0695,.0665,.061,
          .0565,.0555,.048,.0454,.0425,.0394,.0365,.031,.0285]
p8_s_e = [.030,.030,.020,.020,.015,.020,.015,.015,.020,.012,
          .015,.020,.015,.012,.012,.010,.010,.006,.006]


def panel(left, top, right, bottom, xlim, ylim, xmajor, xminor, ymajor, yminor):
    ax = fig.add_axes([left / 1200, 1 - bottom / 1199, (right - left) / 1200, (bottom - top) / 1199])
    ax.set_xlim(*xlim)
    ax.set_ylim(*ylim)
    ax.xaxis.set_major_locator(MultipleLocator(xmajor))
    ax.xaxis.set_minor_locator(MultipleLocator(xminor))
    ax.yaxis.set_major_locator(MultipleLocator(ymajor))
    ax.yaxis.set_minor_locator(MultipleLocator(yminor))
    ax.tick_params(which="major", direction="in", length=7.5, width=0.8, color="#555555",
                   top=True, right=True, labelsize=FS, labelcolor="#222222", pad=6)
    ax.tick_params(which="minor", direction="in", length=3.8, width=0.8, color="#555555",
                   top=True, right=True)
    ax.tick_params(axis="y", which="major", labelrotation=90, pad=6)
    for sp in ax.spines.values():
        sp.set_color("#555555")
        sp.set_linewidth(1.0)
    return ax


def marks(ax, x, y, err, marker, color, size=66):
    if err is not None:
        ax.errorbar(x, y, yerr=err, fmt="none", ecolor=color, elinewidth=0.95, alpha=0.62 if color == RED else 0.75, zorder=2)
    sns.scatterplot(x=x, y=y, ax=ax, marker=marker, s=size, facecolor="none", edgecolor=color,
                    linewidth=0.8, alpha=0.85, zorder=3, legend=False)


def fmt_labels(ax, xfmt, yticks, ylabels, xticks=None):
    if xticks is not None:
        ax.set_xticks(xticks)
        ax.set_xticklabels(xfmt)
    ax.set_yticks(yticks)
    ax.set_yticklabels(ylabels, va="center")
    ax.set_xlabel("")
    ax.set_ylabel("")


def label(x_px, y_px, s, rot=0):
    fig.text(x_px / 1200, 1 - y_px / 1199, s, ha="center", va="center", rotation=rot,
             fontsize=FS + 0.5, color="#222222")


sns.set_style("ticks")
plt.rcParams["font.family"] = ["Liberation Serif"]
plt.rcParams["mathtext.fontset"] = "stix"
FS = 17

fig = plt.figure(figsize=(12, 11.99), dpi=100)

bias_ticks = [-.04, -.02, 0, .02, .04]
bias_labels = ["\u22120.04", "\u22120.02", "0", "0.02", "0.04"]

# left column, the four bias panels
tops = [(21, 244), (318, 541), (614, 837), (910, 1133)]
lims = [(0.6, 3.9), (-0.4, 2.2), (0.005, 0.085), (0, 0.5)]
xm = [(1, .2), (1, .2), (.02, .01), (.1, .02)]
xt = [[1, 2, 3], [0, 1, 2], [.02, .04, .06, .08], [0, .1, .2, .3, .4, .5]]
xtl = [["1", "2", "3"], ["0", "1", "2"], ["0.02", "0.04", "0.06", "0.08"], ["0", "0.1", "0.2", "0.3", "0.4", "0.5"]]
left_data = [
    ((p1_bc_x, p1_bc_y, p1_bc_e), (p1_bs_x, p1_bs_y, p1_bs_e), (p1_bt_x, p1_bt_y, p1_bt_e),
     (p1_rc_x, p1_rc_y, p1_rc_e), (p1_rs_x, p1_rs_y, p1_rs_e), (p1_rt_x, p1_rt_y, p1_rt_e)),
    ((p2_bc_x, p2_bc_y, p2_bc_e), (p2_bs_x, p2_bs_y, p2_bs_e), (p2_bt_x, p2_bt_y, p2_bt_e),
     (p2_rc_x, p2_rc_y, p2_rc_e), (p2_rs_x, p2_rs_y, p2_rs_e), (p2_rt_x, p2_rt_y, p2_rt_e)),
    ((p3_bc_x, p3_bc_y, p3_bc_e), (p3_bs_x, p3_bs_y, p3_bs_e), (p3_bt_x, p3_bt_y, p3_bt_e),
     (p3_rc_x, p3_rc_y, p3_rc_e), (p3_rs_x, p3_rs_y, p3_rs_e), (p3_rt_x, p3_rt_y, p3_rt_e)),
    ((p4_bc_x, p4_bc_y, p4_bc_e), (p4_bs_x, p4_bs_y, p4_bs_e), (p4_bt_x, p4_bt_y, p4_bt_e),
     (p4_rc_x, p4_rc_y, p4_rc_e), (p4_rs_x, p4_rs_y, p4_rs_e), (p4_rt_x, p4_rt_y, p4_rt_e)),
]
group_style = [("o", BLACK), ("s", BLACK), ("^", BLACK), ("o", RED), ("s", RED), ("^", RED)]

for i in range(4):
    ax = panel(58, tops[i][0], 577, tops[i][1], lims[i], (-.04, .04), xm[i][0], xm[i][1], .02, .01)
    # reds go on last, they sit over the black points
    for (x, y, e), (m, c) in zip(left_data[i], group_style):
        marks(ax, x, y, e, m, c)
    fmt_labels(ax, xtl[i], bias_ticks, bias_labels, xt[i])
    label(10, (tops[i][0] + tops[i][1]) / 2, "Bias", 90)

label(322, 302, "Log  (N  per  bin)")
label(322, 598, "Log  (S/N  peak)")
label(322, 895, "Bin  width")
label(322, 1192, "Contamination  fraction")

# top right, reduced chi2
ax = panel(668, 153, 1196, 378, (-1.6, 2), (-.04, .04), 1, .2, .02, .01)
for (x, y, e), (m, c) in zip(((p5_bc_x, p5_bc_y, p5_bc_e), (p5_bs_x, p5_bs_y, p5_bs_e), (p5_bt_x, p5_bt_y, p5_bt_e),
                              (p5_rc_x, p5_rc_y, p5_rc_e), (p5_rs_x, p5_rs_y, p5_rs_e), (p5_rt_x, p5_rt_y, p5_rt_e)), group_style):
    marks(ax, x, y, e, m, c)
fmt_labels(ax, ["\u22121", "0", "1", "2"], bias_ticks, bias_labels, [-1, 0, 1, 2])
label(619, 265, "Bias", 90)
label(932, 437, "Reduced  Chi$^2$")

# error vs N, with the limit curve
ax = panel(668, 456, 1196, 678, (1.5, 3.9), (-1.4, .5), .5, .1, .5, .1)
for x, y, m, c in ((p6_bc_x, p6_bc_y, "o", BLACK), (p6_bs_x, p6_bs_y, "s", BLACK), (p6_bt_x, p6_bt_y, "^", BLACK),
                   (p6_rc_x, p6_rc_y, "o", RED), (p6_rs_x, p6_rs_y, "s", RED), (p6_rt_x, p6_rt_y, "^", RED)):
    marks(ax, x, y, None, m, c)
sns.lineplot(x=curve_x, y=curve_y, ax=ax, color=BLACK, linewidth=0.9, zorder=4, legend=False)
fmt_labels(ax, ["1.5", "2", "2.5", "3", "3.5"], [-1, -.5, 0, .5], ["\u22121", "\u22120.5", "0", "0.5"], [1.5, 2, 2.5, 3, 3.5])
label(619, 565, "Log  (error/binwidth)", 90)
label(932, 738, "Log  (N  per  bin)")

# two small width panels
ax = panel(669, 769, 896, 995, (.5, 3.6), (.061, .064), 1, .2, .001, .0002)
for x, y, m in ((p7_c_x, p7_c_y, "o"), (p7_t_x, p7_t_y, "^"), (p7_s_x, p7_s_y, "s")):
    marks(ax, x, y, None, m, BLACK)
fmt_labels(ax, ["1", "2", "3"], [.061, .062, .063, .064], ["", "0.062", "0.063", "0.064"], [1, 2, 3])
label(620, 865, "width  (J\u2212K)  distr.", 90)
label(787, 1055, "Log  (H)")

ax = panel(971, 769, 1197, 995, (.5, 3.6), (.02, .1), 1, .2, .02, .01)
for x, y, e, m in ((p8_c_x, p8_c_y, p8_c_e, "o"), (p8_t_x, p8_t_y, p8_t_e, "^"), (p8_s_x, p8_s_y, p8_s_e, "s")):
    marks(ax, x, y, e, m, BLACK)
fmt_labels(ax, ["1", "2", "3"], [.02, .04, .06, .08, .1], ["0.02", "0.04", "0.06", "0.08", "0.1"], [1, 2, 3])
label(922, 880, "width  Gaussian", 90)
label(1088, 1055, "Log  (H)")

fig.savefig("out.png", dpi=100)
